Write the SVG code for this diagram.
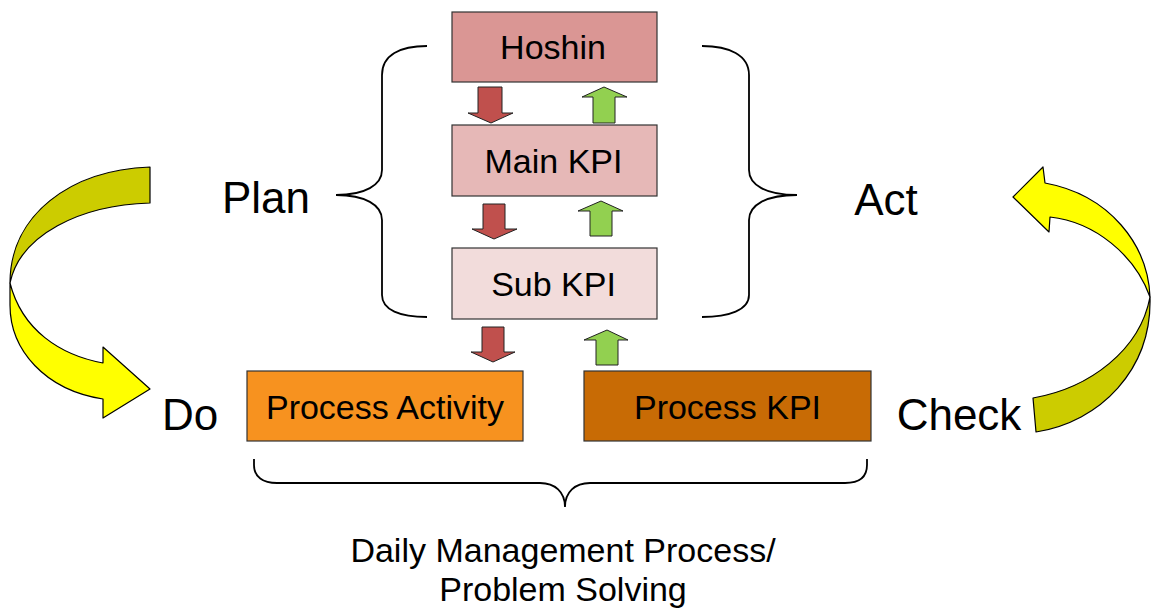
<svg xmlns="http://www.w3.org/2000/svg" width="1151" height="609" viewBox="0 0 1151 609">
<style>
.box{stroke:#333;stroke-width:1.2}
.t{font-family:"Liberation Sans",Arial,sans-serif;fill:#000;text-anchor:middle}
.bt{font-size:34px}
.ft{font-size:34px}
.big{font-size:44px}
.brace{fill:none;stroke:#000;stroke-width:1.8}
.down{fill:#c0504d;stroke:#222;stroke-width:1}
.up{fill:#92d050;stroke:#222;stroke-width:1}
.yel{fill:#ffff00;stroke:#000;stroke-width:1.2;stroke-linejoin:round}
.oli{fill:#cccc00;stroke:#000;stroke-width:1.2;stroke-linejoin:round}
</style>
<rect width="1151" height="609" fill="#fff"/>
<g id="hoshin"><rect class="box" x="452" y="12" width="205" height="70" fill="#da9694"/><text class="t bt" x="553" y="59">Hoshin</text></g>
<g id="main-kpi"><rect class="box" x="452" y="125" width="205" height="71" fill="#e6b8b7"/><text class="t bt" x="553.5" y="173">Main KPI</text></g>
<g id="sub-kpi"><rect class="box" x="452" y="248" width="205" height="71" fill="#f2dcdb"/><text class="t bt" x="553.5" y="296">Sub KPI</text></g>
<g id="process-activity"><rect class="box" x="247" y="371" width="276" height="70" fill="#f7921f"/><text class="t bt" x="385" y="419">Process Activity</text></g>
<g id="process-kpi"><rect class="box" x="584" y="371" width="287" height="70" fill="#c86b05"/><text class="t bt" x="727.5" y="419">Process KPI</text></g>
<g id="labels">
<text class="t big" x="266" y="213">Plan</text>
<text class="t big" x="886" y="215">Act</text>
<text class="t big" x="190" y="430">Do</text>
<text class="t big" x="959" y="430">Check</text>
<text class="t ft" x="563" y="562">Daily Management Process/</text>
<text class="t ft" x="563" y="601">Problem Solving</text>
</g>
<g id="connectors">
<path class="brace" d="M427,46 C400,46 382,55 382,75 L382,170 C382,185 365,195 336,195 C365,195 382,205 382,220 L382,295 C382,310 400,317 427,317"/>
<path class="brace" d="M702,46 C729,46 749,55 749,75 L749,170 C749,185 766,195 797,195 C766,195 749,205 749,220 L749,295 C749,310 729,317 702,317"/>
<path class="brace" d="M254,459 L254,465 C254,477 263,483 277,483 L540,483 C555,483 565,492 565,507 C565,492 575,483 590,483 L845,483 C859,483 867,477 867,465 L867,459"/>
<polygon class="down" points="478,87 502,87 502,113 513,113 491,123 468,113 478,113"/>
<polygon class="down" points="483,204 505,204 505,229 517,229 494,239 472,229 483,229"/>
<polygon class="down" points="482,327 504,327 504,352 515,352 493,362 471,352 482,352"/>
<polygon class="up" points="604,87 627,97 615,97 615,123 593,123 593,97 582,97"/>
<polygon class="up" points="601,201 623,211 612,211 612,236 590,236 590,211 578,211"/>
<polygon class="up" points="607,330 628,340 618,340 618,365 596,365 596,340 584,340"/>
<path class="oli" d="M150,167 C70,170 10,215 10,283 C20,235 80,205 150,203 Z"/>
<path class="yel" d="M10,283 C22,330 60,355 103,363 L103,347 L150,389 L103,418 L103,399 C45,390 10,350 10,305 Z"/>
<path class="yel" d="M1045,183 C1110,195 1148,245 1150,297 C1135,255 1095,222 1050,217 L1049,232 L1013,197 L1043,167 Z"/>
<path class="oli" d="M1150,297 C1152,370 1100,422 1036,432 L1033,398 C1090,388 1140,350 1150,297 Z"/>
</g>
</svg>
